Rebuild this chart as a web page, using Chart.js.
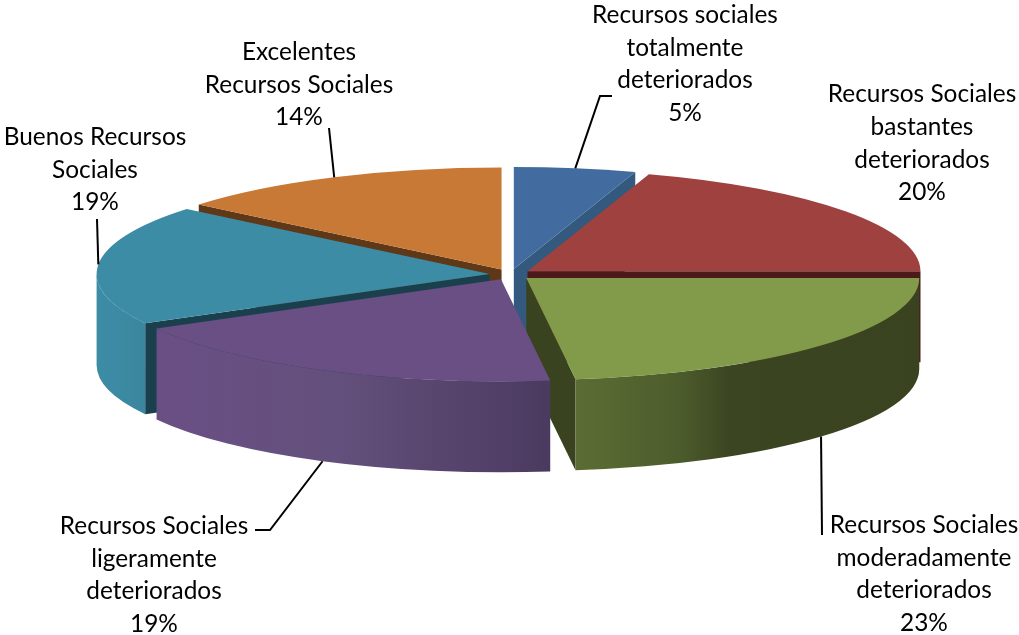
<!DOCTYPE html>
<html lang="es">
<head>
<meta charset="utf-8">
<title>Recursos sociales</title>
<style>
  html, body { margin: 0; padding: 0; background: #ffffff; }
  canvas { display: block; }
</style>
<script src="https://cdn.jsdelivr.net/npm/chart.js@4"></script>
</head>
<body>
<canvas id="pie" width="1019" height="635"></canvas>
<script>
// Social resources, share of each category (percent).
const categories = [
  ["Recursos sociales", "totalmente", "deteriorados"],
  ["Recursos Sociales", "bastantes", "deteriorados"],
  ["Recursos Sociales", "moderadamente", "deteriorados"],
  ["Recursos Sociales", "ligeramente", "deteriorados"],
  ["Buenos Recursos", "Sociales"],
  ["Excelentes", "Recursos Sociales"]
];
const shares = [5, 20, 23, 19, 19, 14];
const topColors = ["#426c9f", "#9e413f", "#829b4a", "#6a4f85", "#3d8ca6", "#c97936"];
const cutColors = ["#34597f", "#4d1a1b", "#39431f", "#6a4f85", "#1a404e", "#5f3817"];
// Horizontal shading of the rim, as [position 0..1 across the slice's rim, colour].
const rimShades = [
  [[0, "#34597f"], [1, "#34597f"]],
  [[0, "#6e2c2b"], [1, "#6e2c2b"]],
  [[0, "#5b6d33"], [0.3, "#4d5c2c"], [0.45, "#3b4521"], [1, "#39431f"]],
  [[0, "#6a4f85"], [0.45, "#64507c"], [1, "#4b3a60"]],
  [[0, "#3d8ca6"], [1, "#3a869e"]],
  [[0, "#c97936"], [1, "#c97936"]]
];
// Slices are painted from the back of the disc to the front.
const paintOrder = [0, 5, 1, 4, 2, 3];

// Tilted disc: on-screen centre, semi-axes, thickness and how far slices are pulled out.
const DISC = { cx: 510.5, cy: 274.5, rx: 393, ry: 102, depth: 91, pull: 21 };

// Label block centre and first-line y, with the leader line's free end points.
const labelLayout = [
  { x: 685, y: 15,  leader: [[600, 96], [612, 96]] },
  { x: 922, y: 94.5, leader: [] },
  { x: 924, y: 525, leader: [[822, 535]] },
  { x: 154, y: 526, leader: [[270, 530], [255, 530]] },
  { x: 95,  y: 137, leader: [[97, 219]] },
  { x: 299, y: 52,  leader: [[329, 128]] }
];
const LINE_HEIGHT = 32.7;

// Screen-space apex of a slice, pulled out along its middle.
function apexOf(arc) {
  const mid = (arc.startAngle + arc.endAngle) / 2;
  return {
    x: DISC.cx + DISC.pull * Math.cos(mid),
    y: DISC.cy + DISC.pull * DISC.ry / DISC.rx * Math.sin(mid)
  };
}

function rimPoint(arc, angle, drop) {
  const apex = apexOf(arc);
  return {
    x: apex.x + DISC.rx * Math.cos(angle),
    y: apex.y + DISC.ry * Math.sin(angle) + (drop || 0)
  };
}

function drawCut(ctx, arc, angle, color) {
  const apex = apexOf(arc);
  const p = rimPoint(arc, angle);
  ctx.fillStyle = color;
  ctx.beginPath();
  ctx.moveTo(apex.x, apex.y);
  ctx.lineTo(p.x, p.y);
  ctx.lineTo(p.x, p.y + DISC.depth);
  ctx.lineTo(apex.x, apex.y + DISC.depth);
  ctx.closePath();
  ctx.fill();
}

function drawRim(ctx, arc, stops) {
  const from = Math.max(arc.startAngle, 0);
  const to = Math.min(arc.endAngle, Math.PI);
  if (to <= from) return;
  const apex = apexOf(arc);
  const a = rimPoint(arc, from);
  const b = rimPoint(arc, to);
  const grad = ctx.createLinearGradient(b.x, 0, a.x, 0);
  stops.forEach(s => grad.addColorStop(s[0], s[1]));
  ctx.fillStyle = grad;
  ctx.beginPath();
  ctx.ellipse(apex.x, apex.y, DISC.rx, DISC.ry, 0, from, to, false);
  ctx.ellipse(apex.x, apex.y + DISC.depth, DISC.rx, DISC.ry, 0, to, from, true);
  ctx.closePath();
  ctx.fill();
}

// The top face is the library's own arc element under a squashing transform.
function drawTop(ctx, arc) {
  const apex = apexOf(arc);
  ctx.save();
  ctx.translate(apex.x, apex.y);
  ctx.scale(DISC.rx / arc.outerRadius, DISC.ry / arc.outerRadius);
  ctx.translate(-arc.x, -arc.y);
  arc.draw(ctx);
  ctx.restore();
}

const tiltedDisc = {
  id: "tiltedDisc",
  beforeDatasetsDraw(chart) {
    const ctx = chart.ctx;
    const arcs = chart.getDatasetMeta(0).data;
    paintOrder.forEach(i => {
      const arc = arcs[i];
      // Cut faces that turn towards the viewer.
      if (Math.cos(arc.startAngle) < -1e-6) drawCut(ctx, arc, arc.startAngle, cutColors[i]);
      if (Math.cos(arc.endAngle) > 1e-6) drawCut(ctx, arc, arc.endAngle, cutColors[i]);
      drawRim(ctx, arc, rimShades[i]);
      drawTop(ctx, arc);
    });
    return false;
  },
  afterDraw(chart) {
    const ctx = chart.ctx;
    const arcs = chart.getDatasetMeta(0).data;
    ctx.save();
    // Leader lines start on the visible edge at the middle of each slice.
    ctx.strokeStyle = "#000000";
    ctx.lineWidth = 2;
    ctx.lineJoin = "miter";
    labelLayout.forEach((item, i) => {
      if (!item.leader.length) return;
      const mid = (arcs[i].startAngle + arcs[i].endAngle) / 2;
      const start = rimPoint(arcs[i], mid, Math.sin(mid) > 0.3 ? DISC.depth : 0);
      ctx.beginPath();
      ctx.moveTo(start.x, start.y);
      item.leader.forEach(p => ctx.lineTo(p[0], p[1]));
      ctx.stroke();
    });
    // Category names with their percentage on the last line.
    ctx.fillStyle = "#000000";
    ctx.font = '24.4px Lato, "Open Sans", sans-serif';
    ctx.textAlign = "center";
    ctx.textBaseline = "middle";
    labelLayout.forEach((item, i) => {
      const lines = categories[i].concat(shares[i] + "%");
      lines.forEach((line, n) => ctx.fillText(line, item.x, item.y + n * LINE_HEIGHT));
    });
    ctx.restore();
  }
};

new Chart(document.getElementById("pie"), {
  type: "pie",
  data: {
    labels: categories.map(c => c.join(" ")),
    datasets: [{
      data: shares,
      backgroundColor: topColors,
      borderWidth: 0
    }]
  },
  options: {
    responsive: false,
    animation: false,
    events: [],
    layout: { padding: 0 },
    plugins: { legend: { display: false }, tooltip: { enabled: false } }
  },
  plugins: [tiltedDisc]
});
</script>
</body>
</html>
